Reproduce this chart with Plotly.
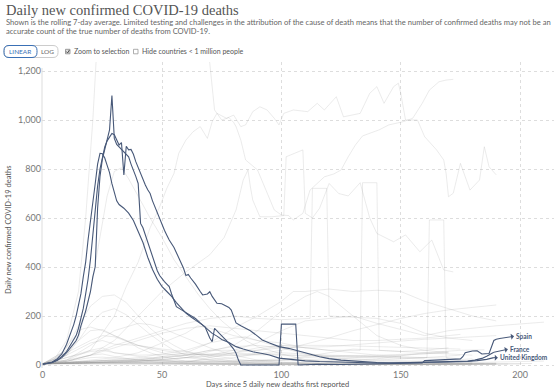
import plotly.graph_objects as go

# ---------------- data (day since 5 daily deaths, 7-day avg deaths) ----------------
spain = [(0,3),(2,6),(4,12),(6,25),(8,45),(10,85),(12,135),(13,165),(14,200),(15,245),(16,290),
         (17,360),(18,420),(19,510),(20,580),(21,650),(22,740),(23,820),(24,864),(25,862),(26,845),
         (27,815),(28,785),(29,740),(30,700),(31,670),(32,655),(34,640),(36,620),(38,590),(40,545),
         (42,500),(44,440),(46,390),(48,350),(50,320),(52,300),(54,280),(56,255),(58,232),(60,212),
         (62,197),(64,185),(66,170),(68,156),(70,110),(71,95),(72,150),(74,129),(76,110),(78,89),
         (80,65),(81,48),(82,20),(83,0),(90,0),(99,0),(100,167),(103,168),(106,167),(107,0),(110,2),
         (115,3),(125,2),(135,3),(145,4),(155,6),(159,8),(160,18),(165,20),(170,22),(175,25),(176,34),
         (177,50),(180,57),(182,58),(184,45),(187,47),(189,100),(190,105),(192,109)]

france = [(0,3),(2,6),(4,10),(6,18),(8,30),(10,50),(12,75),(14,100),(15,122),(16,160),(18,220),
          (20,299),(21,360),(22,401),(23,640),(24,770),(25,840),(26,880),(27,930),(28,960),(29,1100),
          (30,925),(31,900),(32,890),(33,880),(34,870),(35,860),(36,850),(37,820),(38,790),(39,770),
          (40,741),(41,578),(42,560),(43,530),(44,500),(45,470),(46,440),(47,410),(48,385),(49,365),
          (50,350),(51,340),(52,330),(53,320),(54,290),(56,238),(58,226),(60,215),(62,204),(64,190),
          (66,172),(67,163),(69,145),(71,129),(73,118),(75,104),(78,92),(81,75),(84,65),(88,54),
          (92,47),(95,41),(99,28),(103,23),(106,20),(110,17),(116,14),(120,13),(130,10),(140,8),
          (150,9),(160,11),(170,13),(176,15),(178,16),(181,20),(184,27),(186,36),(188,48),(189,52)]

uk = [(0,3),(2,5),(4,10),(6,20),(8,35),(10,55),(12,85),(14,120),(15,150),(16,185),(17,231),(18,290),
      (19,350),(20,430),(21,540),(22,640),(23,730),(24,800),(25,850),(26,890),(27,915),(28,930),
      (29,945),(30,940),(31,920),(32,898),(33,908),(34,776),(35,893),(36,878),(37,880),(38,860),
      (39,830),(40,805),(41,780),(42,760),(43,735),(44,715),(45,700),(46,670),(47,645),(48,620),
      (49,600),(50,575),(51,550),(52,530),(53,510),(55,480),(57,440),(59,395),(60,365),(61,370),
      (62,355),(64,330),(66,300),(67,286),(69,290),(70,299),(71,280),(73,252),(75,250),(76,245),
      (78,235),(79,224),(80,200),(81,172),(83,160),(85,150),(87,140),(90,118),(92,102),(95,90),
      (99,75),(103,68),(106,61),(110,50),(113,42),(116,34),(120,26),(125,20),(130,16),(135,14),
      (140,10),(145,8),(150,8),(155,9),(160,10),(165,11),(170,12),(175,13),(178,14),(182,18),
      (186,23),(189,30)]

highlighted = [("Spain", spain), ("France", france), ("United Kingdom", uk)]

# background countries (grey)
g_usa = [(0,5),(5,25),(10,100),(15,300),(18,600),(21,1000),(23,1350),(68,1350),(70,1231),(71,1136),
         (72,1041),(75,1000),(78,1010),(80,990),(81,973),(83,918),(85,837),(90,796),(94,701),(97,633),
         (100,612),(103,610),(105,592),(109,619),(112,714),(115,740),(118,768),(122,780),(125,796),
         (128,850),(131,898),(134,935),(137,946),(141,960),(145,980),(151,993),(155,1007),(159,1068),
         (162,1122),(166,1156),(169,1163),(172,1166)]
g_brazil = [(0,5),(10,20),(20,60),(30,200),(35,320),(40,420),(45,560),(49,646),(52,721),(55,782),
            (57,864),(60,918),(63,952),(66,973),(69,925),(71,993),(73,1027),(77,1007),(80,1020),
            (83,973),(85,980),(88,1034),(91,1054),(94,1041),(97,1007),(99,980),(101,1027),(105,1041),
            (111,1034),(115,1068),(118,1041),(123,1095),(126,1013),(130,1020),(133,1027),(137,1109),
            (140,1136),(143,1068),(147,1136),(149,1150),(150,1109),(152,1000),(157,1000),(160,932),
            (165,878),(168,837),(169,782),(170,687),(172,701),(175,823),(179,714),(183,755),(185,891),
            (187,809),(190,776)]
g_mexico = [(0,5),(10,15),(20,40),(30,100),(40,200),(50,300),(60,380),(70,450),(76,520),(81,633),
            (84,755),(86,796),(87,728),(88,673),(91,605),(96,605),(101,610),(102,850),(109,878),
            (110,619),(113,600),(116,640),(120,741),(124,700),(128,690),(133,744),(137,600),(140,537),
            (147,503),(152,531),(158,462),(163,510),(168,388),(172,380)]
g_italy = [(0,5),(5,15),(10,40),(15,110),(20,300),(24,520),(27,690),(30,790),(33,805),(36,760),
           (40,690),(45,600),(50,520),(55,430),(60,360),(65,290),(70,230),(75,180),(80,140),(85,100),
           (90,75),(100,45),(110,22),(120,12),(130,10),(140,6),(150,5),(160,4),(170,8),(180,10),
           (200,14),(210,16)]
g_belgium = [(0,5),(5,25),(10,70),(15,160),(20,240),(25,280),(30,286),(35,255),(40,200),(45,150),
             (50,110),(55,80),(60,55),(70,30),(80,15),(90,8),(100,5),(120,3),(150,2),(180,3),(195,4)]
g_germany = [(0,5),(10,40),(15,100),(20,170),(25,215),(30,230),(35,205),(40,165),(45,125),(50,90),
             (55,60),(60,40),(70,20),(80,10),(100,6),(130,5),(160,6),(185,5)]
g_netherlands = [(0,5),(8,50),(12,100),(16,145),(20,155),(25,140),(30,120),(35,100),(40,70),(45,50),
                 (50,35),(60,15),(70,8),(100,3),(150,2),(190,8)]
g_canada = [(0,5),(10,20),(20,80),(30,140),(40,170),(45,165),(50,150),(55,130),(60,110),(70,70),
            (80,40),(90,20),(100,10),(120,5),(150,4),(180,5),(190,6)]
g_sweden = [(0,5),(10,40),(20,90),(25,100),(30,85),(40,80),(50,65),(60,55),(70,40),(80,25),(90,15),
            (100,10),(120,3),(150,2),(190,2)]
g_russia = [(0,5),(10,15),(20,40),(30,70),(40,100),(50,130),(60,150),(70,160),(80,150),(90,140),
            (100,130),(110,120),(120,110),(130,100),(140,100),(150,105),(160,110),(170,120),(175,125)]
g_peru = [(0,5),(10,15),(20,40),(30,80),(40,110),(50,140),(60,170),(70,190),(80,200),(90,190),
          (100,185),(112,190),(113,721),(119,721),(120,200),(130,195),(140,190),(150,170),(160,130),
          (170,110),(180,100)]
g_chile = [(0,5),(10,10),(20,20),(30,30),(40,50),(50,90),(60,130),(65,160),(70,150),(80,120),(90,100),
           (100,90),(110,70),(120,60),(133,60),(134,744),(140,744),(141,60),(150,55),(160,50),(170,45),
           (180,40)]
g_ecuador = [(0,5),(10,30),(20,60),(25,70),(30,50),(40,40),(60,45),(80,40),(100,50),(120,40),(140,35),
             (161,30),(162,592),(168,592),(169,30),(175,25)]
g_colombia = [(0,5),(20,10),(40,20),(60,50),(70,90),(80,150),(90,200),(100,260),(105,300),(110,300),
              (120,310),(130,300),(140,305),(150,300),(155,280),(160,260),(170,230),(180,200),(190,180)]
g_southafrica = [(0,5),(40,10),(60,30),(80,80),(90,140),(100,220),(110,280),(115,300),(120,280),
                 (130,200),(140,120),(150,80),(160,60),(170,50)]
g_iran = [(0,5),(10,60),(20,140),(25,145),(30,120),(40,80),(50,60),(60,45),(70,40),(80,60),(90,90),
          (100,140),(110,180),(130,200),(140,170),(160,120),(170,140),(190,160),(210,175)]
g_turkey = [(0,5),(10,50),(20,100),(25,120),(30,115),(40,80),(50,50),(60,30),(70,20),(80,18),(90,18),
            (100,17),(120,18),(140,25),(160,50),(175,60),(185,62)]
g_indonesia = [(0,5),(20,15),(40,25),(60,40),(80,50),(100,70),(120,75),(140,90),(160,105),(180,115),
               (190,120)]
g_argentina = [(0,5),(40,10),(60,15),(80,30),(100,60),(120,110),(130,140),(140,165),(150,190),
               (160,210),(170,225),(180,235),(190,245)]
g_pakistan = [(0,5),(20,15),(40,30),(60,60),(70,90),(80,110),(85,115),(90,100),(100,70),(110,45),
              (120,25),(130,15),(150,8),(170,6),(180,6)]
g_bangladesh = [(0,5),(20,8),(40,15),(60,30),(80,40),(100,42),(120,38),(140,35),(160,30),(170,28)]
g_iraq = [(0,5),(20,5),(40,5),(60,10),(70,30),(80,50),(90,70),(100,80),(120,80),(140,75),(160,70),
          (175,65)]
g_egypt = [(0,5),(20,10),(40,15),(60,40),(70,60),(80,75),(90,80),(100,70),(110,50),(120,30),(140,20),
           (160,15),(170,12)]
g_philippines = [(0,5),(20,10),(40,8),(60,6),(80,10),(100,20),(120,50),(130,65),(140,60),(150,55),
                 (160,60),(170,70)]
g_bolivia = [(0,5),(20,10),(40,20),(60,40),(70,60),(80,60),(90,60),(100,80),(110,70),(120,60),
             (130,50),(140,40),(150,35)]
g_romania = [(0,5),(20,15),(40,20),(60,15),(80,15),(100,25),(120,35),(140,40),(160,45),(170,50)]
g_ukraine = [(0,5),(20,8),(40,10),(60,10),(80,15),(100,20),(120,25),(140,35),(160,45),(170,55)]
g_poland = [(0,5),(20,15),(40,20),(60,15),(80,10),(100,8),(120,10),(140,12),(160,15),(180,25)]
g_switzerland = [(0,5),(10,30),(20,55),(25,60),(30,50),(40,35),(50,20),(60,8),(80,3),(100,1),(150,2),
                 (190,3)]
g_portugal = [(0,5),(10,15),(20,30),(25,32),(30,28),(40,20),(50,15),(60,12),(80,6),(100,5),(120,3),
              (150,3),(190,6)]
g_ireland = [(0,5),(10,20),(20,40),(25,45),(30,35),(40,20),(50,10),(60,5),(100,1),(150,1),(180,1)]
g_israel = [(0,5),(20,10),(40,5),(60,2),(80,3),(100,8),(120,15),(140,20),(160,30),(175,40)]
g_saudi = [(0,5),(20,10),(40,15),(60,30),(70,40),(80,48),(90,45),(100,40),(120,35),(140,30),(160,25)]
g_small_a = [(0,5),(20,6),(40,4),(60,3),(80,2),(100,2),(130,3),(160,4),(190,5),(205,6)]
g_small_b = [(0,5),(15,8),(30,10),(50,6),(80,3),(110,2),(140,2),(170,3),(200,4)]
g_small_c = [(0,5),(10,12),(25,18),(40,12),(60,6),(90,4),(120,5),(150,8),(180,10)]

grey_series = [g_usa, g_brazil, g_mexico, g_italy, g_belgium, g_germany, g_netherlands, g_canada,
               g_sweden, g_russia, g_peru, g_chile, g_ecuador, g_colombia, g_southafrica, g_iran,
               g_turkey, g_indonesia, g_argentina, g_pakistan, g_bangladesh, g_iraq, g_egypt,
               g_philippines, g_bolivia, g_romania, g_ukraine, g_poland, g_switzerland, g_portugal,
               g_ireland, g_israel, g_saudi, g_small_a, g_small_b, g_small_c]

x_ticks = [0, 50, 100, 150, 200]
y_ticks = [0, 200, 400, 600, 800, 1000, 1200]

title = "Daily new confirmed COVID-19 deaths"
subtitle_1 = ("Shown is the rolling 7-day average. Limited testing and challenges in the attribution of the "
              "cause of death means that the number of confirmed deaths may not be an")
subtitle_2 = "accurate count of the true number of deaths from COVID-19."
x_title = "Days since 5 daily new deaths first reported"
y_title = "Daily new confirmed COVID-19 deaths"

# ---------------- figure ----------------
W_FIG, H_FIG = 554, 392
L, R, T, B = 42, 0, 62, 24
PW, PH = W_FIG - L - R, H_FIG - T - B

def fx(px):
    return (px - L) / PW

def fy(py):
    return 1 - (py - T) / PH

DARK = "#475878"
GREY = "rgba(150,150,150,0.19)"
FONT = "Lato, 'Open Sans', sans-serif"

fig = go.Figure()
for s in grey_series:
    fig.add_trace(go.Scatter(x=[p[0] for p in s], y=[p[1] for p in s], mode="lines",
                             line=dict(color=GREY, width=1), hoverinfo="skip", showlegend=False))
for name, s in highlighted:
    fig.add_trace(go.Scatter(x=[p[0] for p in s], y=[p[1] for p in s], mode="lines", name=name,
                             line=dict(color=DARK, width=1.1), showlegend=False))

annotations = []
# series labels with small connector arrows
label_offsets = {"Spain": (13, -2), "France": (14, -3), "United Kingdom": (4, 0)}
for name, s in highlighted:
    xe, ye = s[-1]
    ax, ay = label_offsets[name]
    annotations.append(dict(x=xe, y=ye, xref="x", yref="y", text=f"<b>{name}</b>", showarrow=True,
                            ax=ax, ay=ay, xanchor="left", yanchor="middle",
                            arrowhead=2, arrowsize=0.6, arrowwidth=1, arrowcolor=DARK,
                            arrowside="start", standoff=0, startstandoff=0,
                            font=dict(family=FONT, size=6.5, color=DARK)))

# title / subtitle
annotations += [
    dict(x=fx(4), y=fy(10), xref="paper", yref="paper", text=title, showarrow=False,
         xanchor="left", yanchor="middle",
         font=dict(family="'Liberation Serif', 'DejaVu Serif', serif", size=14.5, color="#555555")),
    dict(x=fx(4), y=fy(21.5), xref="paper", yref="paper", text=subtitle_1, showarrow=False,
         xanchor="left", yanchor="middle", font=dict(family=FONT, size=7.6, color="#666666")),
    dict(x=fx(4), y=fy(31), xref="paper", yref="paper", text=subtitle_2, showarrow=False,
         xanchor="left", yanchor="middle", font=dict(family=FONT, size=7.6, color="#666666")),
    # controls
    dict(x=fx(20.5), y=fy(51.5), xref="paper", yref="paper", text="LINEAR", showarrow=False,
         xanchor="center", yanchor="middle", font=dict(family=FONT, size=6.5, color="#3a70b5")),
    dict(x=fx(47), y=fy(51.5), xref="paper", yref="paper", text="LOG", showarrow=False,
         xanchor="center", yanchor="middle", font=dict(family=FONT, size=6.5, color="#666666")),
    dict(x=fx(72), y=fy(51.5), xref="paper", yref="paper", text="Zoom to selection", showarrow=False,
         xanchor="left", yanchor="middle", font=dict(family=FONT, size=7, color="#555555")),
    dict(x=fx(140), y=fy(51.5), xref="paper", yref="paper", text="Hide countries < 1 million people",
         showarrow=False, xanchor="left", yanchor="middle",
         font=dict(family=FONT, size=7, color="#555555")),
    # axis titles
    dict(x=fx(277), y=fy(384), xref="paper", yref="paper", text=x_title, showarrow=False,
         xanchor="center", yanchor="middle", font=dict(family=FONT, size=7.5, color="#555555")),
    dict(x=fx(8), y=fy(230), xref="paper", yref="paper", text=y_title, showarrow=False, textangle=-90,
         xanchor="center", yanchor="middle", font=dict(family=FONT, size=7.5, color="#555555")),
]

def rrect(x0, y0, x1, y1, r):
    rx, ry = r / PW, r / PH
    X0, X1 = fx(x0), fx(x1)
    Y0, Y1 = fy(y1), fy(y0)  # Y0 bottom, Y1 top in paper
    return (f"M {X0+rx},{Y1} L {X1-rx},{Y1} Q {X1},{Y1} {X1},{Y1-ry} L {X1},{Y0+ry} "
            f"Q {X1},{Y0} {X1-rx},{Y0} L {X0+rx},{Y0} Q {X0},{Y0} {X0},{Y0+ry} "
            f"L {X0},{Y1-ry} Q {X0},{Y1} {X0+rx},{Y1} Z")

shapes = [
    dict(type="path", xref="paper", yref="paper", path=rrect(4, 45.5, 58, 57.5, 5),
         line=dict(color="#cccccc", width=1), fillcolor="white", layer="above"),
    dict(type="path", xref="paper", yref="paper", path=rrect(4, 45.5, 37, 57.5, 5),
         line=dict(color="#3a70b5", width=1), fillcolor="rgba(0,0,0,0)", layer="above"),
    # checked box
    dict(type="rect", xref="paper", yref="paper", x0=fx(65.5), x1=fx(70), y0=fy(53.8), y1=fy(49.3),
         line=dict(color="#888888", width=0.8), fillcolor="#dddddd", layer="above"),
    dict(type="path", xref="paper", yref="paper",
         path=f"M {fx(66.3)},{fy(51.5)} L {fx(67.6)},{fy(53)} L {fx(69.4)},{fy(50)}",
         line=dict(color="#444444", width=0.9), layer="above"),
    # unchecked box
    dict(type="rect", xref="paper", yref="paper", x0=fx(133.5), x1=fx(138), y0=fy(53.8), y1=fy(49.3),
         line=dict(color="#999999", width=0.8), fillcolor="white", layer="above"),
    # y axis line
    dict(type="line", xref="paper", yref="paper", x0=0, x1=0, y0=0, y1=fy(68),
         line=dict(color="#dddddd", width=1)),
]

x_lo = (L - 42.7) / 2.387
x_hi = (W_FIG - R - 42.7) / 2.387
y_lo = -(T + PH - 365) / 0.245
y_hi = (365 - T) / 0.245

fig.update_layout(
    width=W_FIG, height=H_FIG, autosize=False,
    margin=dict(l=L, r=R, t=T, b=B, pad=0),
    paper_bgcolor="white", plot_bgcolor="white",
    showlegend=False,
    annotations=annotations, shapes=shapes,
    xaxis=dict(range=[x_lo, x_hi], tickvals=x_ticks, showgrid=True, gridcolor="#dddddd",
               griddash="dot", gridwidth=1, zeroline=False, showline=False, ticks="",
               tickfont=dict(family=FONT, size=9, color="#777777")),
    yaxis=dict(range=[y_lo, y_hi], tickvals=y_ticks, tickformat=",", showgrid=True,
               gridcolor="#dddddd", griddash="dot", gridwidth=1, zeroline=False,
               showline=False, ticks="", tickfont=dict(family=FONT, size=9, color="#777777")),
)

fig.write_html("out.html", config={"displayModeBar": False},
               post_script="document.body.style.margin='0';")
